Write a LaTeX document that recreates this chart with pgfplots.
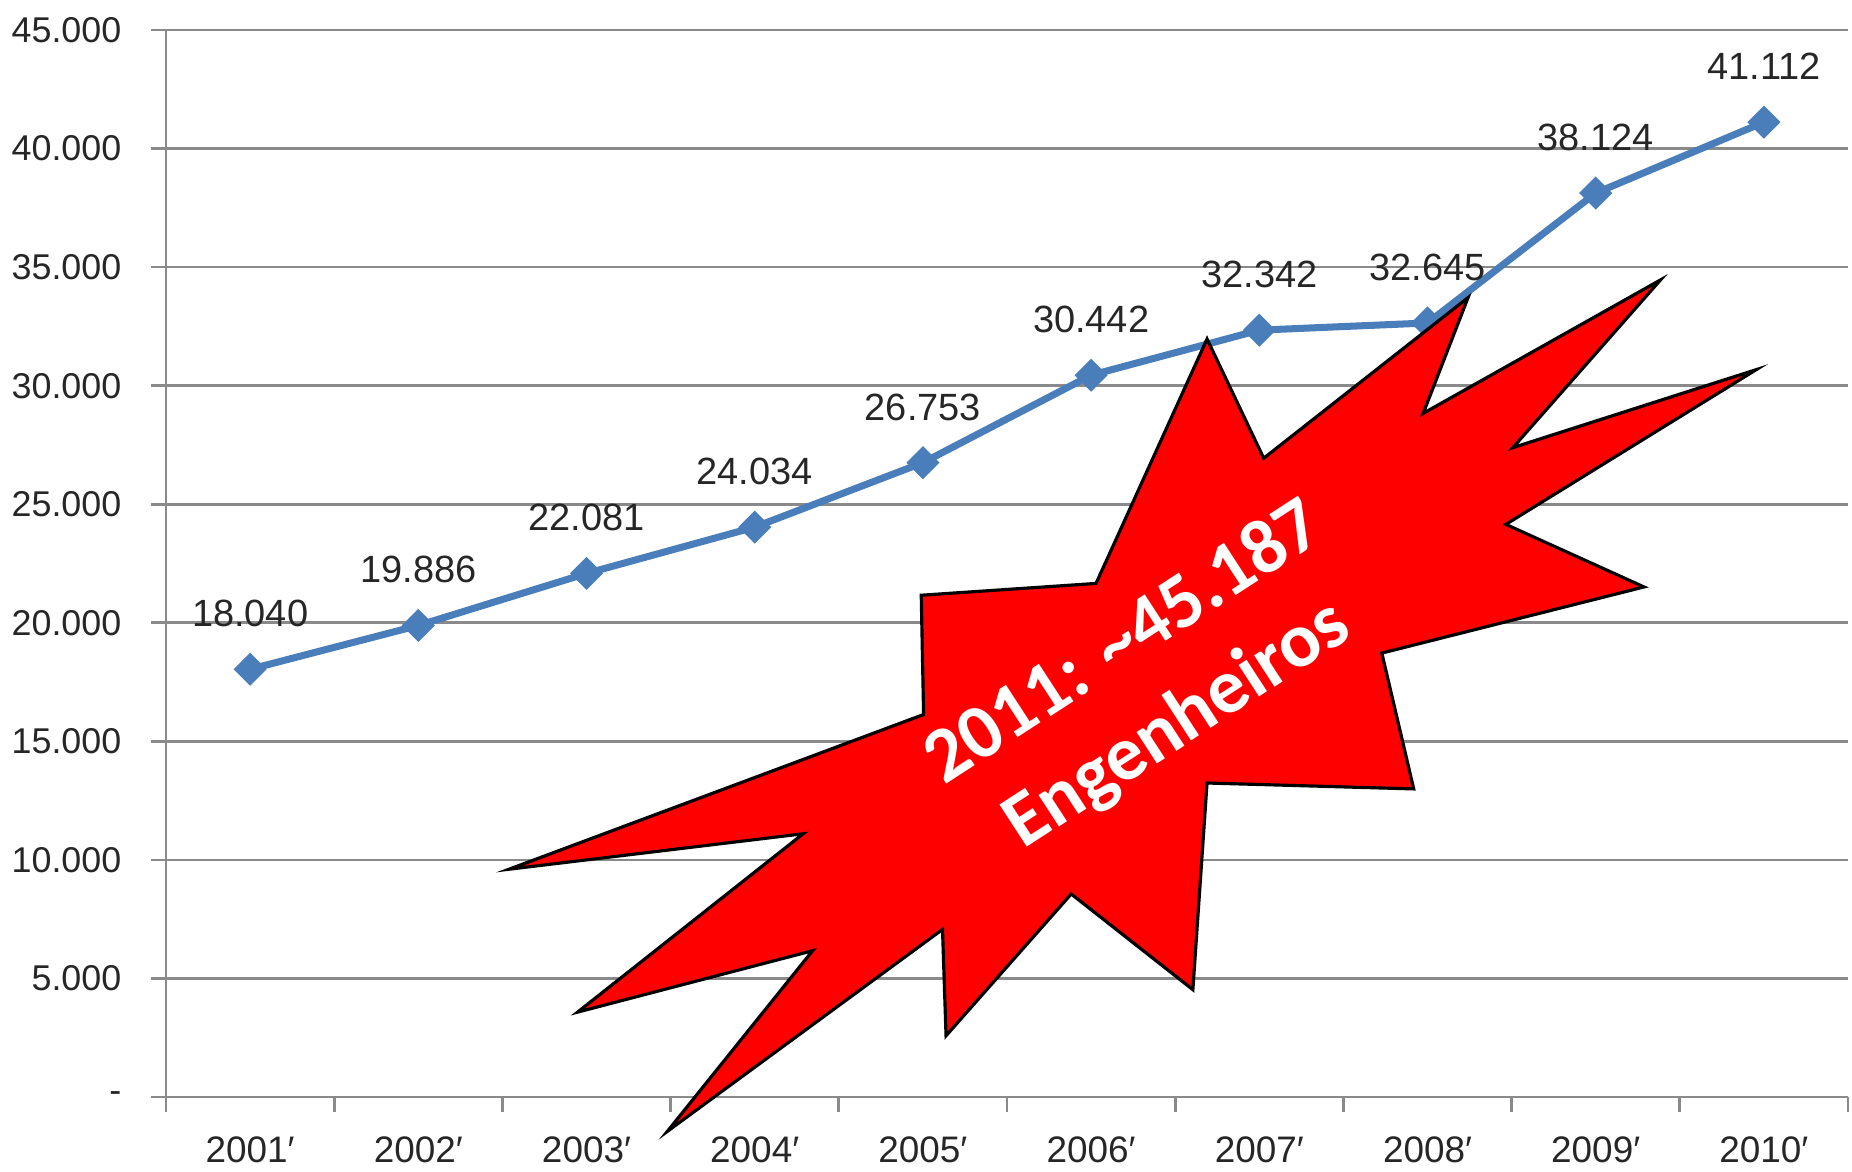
\documentclass[border=0pt]{standalone}
\usepackage{pgfplots}
\pgfplotsset{compat=1.18}
\usepackage{fontspec}
\setmainfont{Liberation Sans}
\newfontfamily\carlito{Carlito}
\definecolor{lineblue}{HTML}{4A7EBB}
\definecolor{gridgray}{HTML}{8A8A8A}
\definecolor{burstred}{HTML}{FF0000}
\begin{document}
\begin{tikzpicture}
\begin{axis}[
  at={(0,0)}, anchor=south west,
  scale only axis, width=168.2mm, height=106.7mm,
  xmin=-0.5, xmax=9.5, ymin=0, ymax=45000,
  axis x line*=bottom, axis y line*=left,
  axis line style={draw=gridgray, line width=0.75pt},
  ytick={0,5000,...,45000},
  yticklabels={-,5.000,10.000,15.000,20.000,25.000,30.000,35.000,40.000,45.000},
  minor ytick={0,5000,...,45000},
  ymajorgrids, grid style={draw=gridgray, line width=0.75pt},
  xtick={0,...,9},
  xticklabels={2001′,2002′,2003′,2004′,2005′,2006′,2007′,2008′,2009′,2010′},
  minor xtick={-0.5,0.5,...,9.5},
  tick align=outside,
  major tick length=0pt, minor tick length=1.5mm,
  tick style={draw=gridgray, line width=0.75pt},
  yticklabel style={anchor=east, inner sep=0pt, xshift=-4.4mm, font=\fontsize{10.2}{12}\selectfont, text=black!85},
  xticklabel style={anchor=base, inner sep=0pt, yshift=-6.5mm, font=\fontsize{10.5}{12}\selectfont, text=black!85},
  clip=false,
]
\addplot[color=lineblue, line width=2pt, mark=square*, mark size=1.1mm,
  mark options={rotate=45, fill=lineblue, draw=lineblue, line width=0.4pt},
  nodes near coords, point meta=explicit symbolic,
  every node near coord/.append style={anchor=base, inner sep=0pt, yshift=4.25mm, font=\fontsize{10.8}{13}\selectfont, text=black!85}]
coordinates {
(0,18040) [18.040]
(1,19886) [19.886]
(2,22081) [22.081]
(3,24034) [24.034]
(4,26753) [26.753]
(5,30442) [30.442]
(6,32342) [32.342]
(7,32645) [32.645]
(8,38124) [38.124]
(9,41112) [41.112]
};
\end{axis}
\begin{scope}[x=0.11811mm, y=-0.11811mm, shift={(-16.594mm,109.70mm)}]
\draw[fill=burstred, draw=black, line width=0.9pt, line join=miter]
 (1022,287) -- (1070,388) -- (1243,252) -- (1205,350) -- (1406,237) -- (1281,379)
 -- (1487,313) -- (1275,444) -- (1392,497) -- (1170,553) -- (1197,668) -- (1022,663)
 -- (1010,838) -- (907,757) -- (801,877) -- (798,787) -- (565,958) -- (688,805)
 -- (489,857) -- (680,706) -- (431,736) -- (782,605) -- (780,504) -- (928,494) -- cycle;
\node[rotate=33, text=white, align=center, font=\carlito\bfseries\fontsize{22}{27.7}\selectfont] at (975,580) {2011: \textasciitilde45.187\\Engenheiros};
\end{scope}
\pgfresetboundingbox
\path[use as bounding box] (-16.6mm,-7.4mm) rectangle (168.6mm,109.7mm);
\end{tikzpicture}
\end{document}
